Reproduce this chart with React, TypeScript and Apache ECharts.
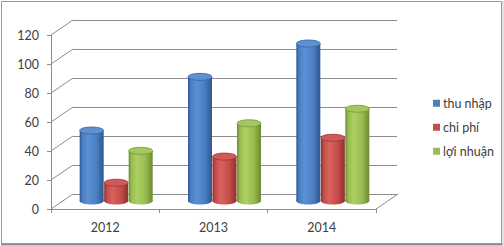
import React, { useEffect, useRef } from "react";
import * as echarts from "echarts";

const years = ["2012", "2013", "2014"];
const income = [50, 87, 110];
const cost = [14, 32, 45];
const profit = [36, 55, 65];
const seriesNames = ["thu nhập", "chi phí", "lợi nhuận"];
const yTicks = [0, 20, 40, 60, 80, 100, 120];

const palettes = [
  { base: "#4F81BD", edge: "#2c5690", mid: "#4b7fc3", hi: "#5b90d6", top: "#5f90d2", topEdge: "#35649f" },
  { base: "#C0504D", edge: "#8e2f2c", mid: "#c44d4a", hi: "#d9625e", top: "#cf5a57", topEdge: "#9b3936" },
  { base: "#9BBB59", edge: "#6c8a30", mid: "#98bc4f", hi: "#add065", top: "#a6c65f", topEdge: "#76953a" },
];

const DEPTH_X = 22;
const DEPTH_Y = 15;
const FONT = "Lato, 'Liberation Sans', sans-serif";
const TEXT = "#404040";
const LINE = "#8c8c8c";

export default function App() {
  const ref = useRef<HTMLDivElement>(null);
  useEffect(() => {
    const chart = echarts.init(ref.current!, null, { renderer: "svg" });
    const allData = [income, cost, profit];

    const barSeries = allData.map((vals, s) => {
      const p = palettes[s];
      return {
        name: seriesNames[s],
        type: "custom",
        xAxisIndex: 0,
        yAxisIndex: 0,
        itemStyle: { color: p.base },
        z: 5 + s,
        data: vals.map((v, i) => [i, v]),
        renderItem: (params: any, api: any) => {
          const c = api.coord([api.value(0), api.value(1)]);
          const z0 = api.coord([api.value(0), 0]);
          const w = 24;
          const cx = c[0] + DEPTH_X / 2 + (s - 1) * 24.5;
          const yTop = c[1] - 6;
          const yBot = z0[1] - 8;
          const ry = 3.5;
          const grad = new echarts.graphic.LinearGradient(0, 0, 1, 0, [
            { offset: 0, color: p.edge },
            { offset: 0.12, color: p.mid },
            { offset: 0.35, color: p.hi },
            { offset: 0.7, color: p.mid },
            { offset: 1, color: p.edge },
          ]);
          return {
            type: "group",
            children: [
              {
                type: "ellipse",
                shape: { cx, cy: yBot, rx: w / 2, ry },
                style: { fill: grad },
              },
              {
                type: "rect",
                shape: { x: cx - w / 2, y: yTop, width: w, height: Math.max(0, yBot - yTop) },
                style: { fill: grad },
              },
              {
                type: "ellipse",
                shape: { cx, cy: yTop, rx: w / 2, ry },
                style: { fill: p.top, stroke: p.topEdge, lineWidth: 0.8 },
              },
            ],
          };
        },
      };
    });

    const frameSeries = {
      name: "frame",
      type: "custom",
      xAxisIndex: 0,
      yAxisIndex: 0,
      silent: true,
      z: 1,
      data: yTicks.map((v) => [0, v]),
      renderItem: (params: any, api: any) => {
        const p = api.coord([0, api.value(1)]);
        const band = api.size([1, 0])[0];
        const xl = p[0] - band / 2;
        const children: any[] = [
          {
            type: "line",
            shape: { x1: xl, y1: p[1], x2: xl + DEPTH_X, y2: p[1] - DEPTH_Y },
            style: { stroke: LINE, lineWidth: 1 },
          },
        ];
        if (api.value(1) === 0) {
          const r = api.coord([years.length - 1, 0]);
          const xr = r[0] + band / 2;
          children.push({
            type: "line",
            shape: { x1: xr, y1: r[1], x2: xr + DEPTH_X, y2: r[1] - DEPTH_Y },
            style: { stroke: LINE, lineWidth: 1 },
          });
        }
        return { type: "group", children };
      },
    };

    chart.setOption({
      animation: false,
      backgroundColor: "#ffffff",
      textStyle: { fontFamily: FONT },
      graphic: [
        {
          type: "rect",
          shape: { x: 1.5, y: 1.5, width: 500, height: 242 },
          style: { fill: "none", stroke: "#9a9a9a", lineWidth: 1 },
          z: -1,
        },
        {
          type: "line",
          shape: { x1: 1, y1: 244.5, x2: 503, y2: 244.5 },
          style: { stroke: "#8f8f8f", lineWidth: 2 },
        },
        {
          type: "line",
          shape: { x1: 503, y1: 1, x2: 503, y2: 245 },
          style: { stroke: "#c8c8c8", lineWidth: 1 },
        },
      ],
      legend: {
        orient: "vertical",
        left: 428,
        top: 91,
        itemWidth: 7,
        itemHeight: 7,
        itemGap: 9.5,
        icon: "rect",
        data: seriesNames,
        textStyle: { color: TEXT, fontSize: 12.5, fontFamily: FONT, lineHeight: 14.5, padding: [0, 0, 0, -2] },
      },
      grid: [
        { left: 51, right: 128, top: 35, bottom: 37 },
        { left: 73, right: 107, top: 20, bottom: 52 },
      ],
      xAxis: [
        {
          gridIndex: 0,
          type: "category",
          data: years,
          boundaryGap: true,
          axisLine: { show: true, lineStyle: { color: LINE } },
          axisTick: { show: true, length: 4, lineStyle: { color: LINE } },
          axisLabel: { color: TEXT, fontSize: 12.5, fontFamily: FONT, margin: 12 },
          splitLine: { show: false },
        },
        {
          gridIndex: 1,
          type: "category",
          data: years,
          show: false,
        },
      ],
      yAxis: [
        {
          gridIndex: 0,
          type: "value",
          min: 0,
          max: 120,
          interval: 20,
          axisLine: { show: true, lineStyle: { color: LINE } },
          axisTick: { show: true, length: 4, lineStyle: { color: LINE } },
          axisLabel: { color: TEXT, fontSize: 12.5, fontFamily: FONT, margin: 12 },
          splitLine: { show: false },
        },
        {
          gridIndex: 1,
          type: "value",
          min: 0,
          max: 120,
          interval: 20,
          axisLine: { show: false },
          axisTick: { show: false },
          axisLabel: { show: false },
          splitLine: { show: true, lineStyle: { color: LINE, width: 1 } },
        },
      ],
      series: [frameSeries, ...barSeries],
    });
    return () => chart.dispose();
  }, []);
  return (
    <div
      ref={ref}
      style={{ position: "fixed", left: 0, top: 0, width: 504, height: 246, background: "#fff" }}
    />
  );
}
